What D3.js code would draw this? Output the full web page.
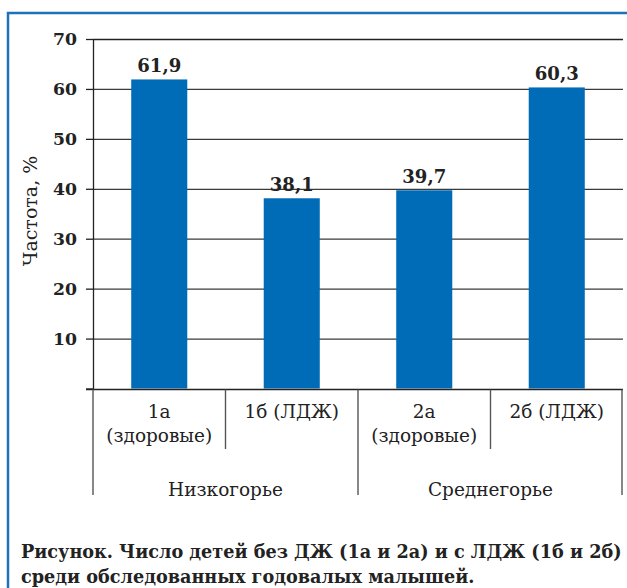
<!DOCTYPE html>
<html>
<head>
<meta charset="utf-8">
<script src="https://cdn.jsdelivr.net/npm/d3@7"></script>
<style>
    body { margin: 0; background: #fff; }
</style>
</head>
<body>
<div id="chart"></div>
<script>
// categories, values and labels
let categories = ["1а", "1б", "2а", "2б"];
let categoryLines = [["1а", "(здоровые)"], ["1б (ЛДЖ)"], ["2а", "(здоровые)"], ["2б (ЛДЖ)"]];
let values = [61.9, 38.1, 39.7, 60.3];
let valueLabels = ["61,9", "38,1", "39,7", "60,3"];
let groups = ["Низкогорье", "Среднегорье"];
let groupMembers = [["1а", "1б"], ["2а", "2б"]];
let yTicks = [0, 10, 20, 30, 40, 50, 60, 70];
let yTitle = "Частота, %";
let caption = ["Рисунок. Число детей без ДЖ (1а и 2а) и с ЛДЖ (1б и 2б)",
               "среди обследованных годовалых малышей."];

let W = 627, H = 588;
let plot = {left: 93, right: 623, top: 39, bottom: 388.5};
let serif = "'DejaVu Serif', 'Liberation Serif', serif";

let svg = d3.select("#chart")
    .append("svg")
    .attr("width", W)
    .attr("height", H)
    .style("display", "block");

// pick a font size so that a sample string gets the width seen in the picture
function fitSize(sample, weight, targetWidth, maxSize) {
    let t = svg.append("text")
        .style("font-family", serif)
        .style("font-weight", weight)
        .style("font-size", "100px")
        .text(sample);
    let w = t.node().getComputedTextLength();
    t.remove();
    return Math.min(maxSize, 100 * targetWidth / w);
}
let tickSize = fitSize("70", "bold", 24, 19);
let valSize = fitSize("61,9", "bold", 44, 20);
let catSize = fitSize("(здоровые)", "normal", 106, 19);
let titleSize = fitSize(yTitle, "normal", 114, 19);
let capSize = fitSize(caption[0], "bold", 601, 19);

// blue frame (top and left edge)
svg.append("path")
    .attr("d", "M8," + H + " V13 H" + W)
    .attr("fill", "none")
    .attr("stroke", "#1f72b8")
    .attr("stroke-width", 2.5);

let x = d3.scaleBand()
    .domain(categories)
    .range([plot.left, plot.right])
    .paddingInner(0.577)
    .paddingOuter(0.2885);

let y = d3.scaleLinear()
    .domain([0, 70])
    .range([plot.bottom, plot.top]);

// grid lines
let grid = svg.append("g")
    .attr("transform", "translate(" + plot.left + ",0)")
    .call(d3.axisLeft(y).tickValues(yTicks.slice(1)).tickSize(-(plot.right - plot.left)).tickFormat(""));
grid.select(".domain").remove();
grid.selectAll(".tick line")
    .attr("stroke", function(d) { return d === 70 ? "#222" : "#3a3a3a"; })
    .attr("stroke-width", 1.3);

// Y axis with ticks and labels
let yAxis = svg.append("g")
    .attr("transform", "translate(" + plot.left + ",0)")
    .call(d3.axisLeft(y).tickValues(yTicks).tickSize(7).tickSizeOuter(0).tickPadding(9)
        .tickFormat(function(d) { return d === 0 ? "" : d; }));
yAxis.select(".domain").attr("stroke", "#222").attr("stroke-width", 1.3);
yAxis.selectAll(".tick line").attr("stroke", "#222").attr("stroke-width", 1.3);
yAxis.selectAll(".tick text")
    .attr("fill", "#222")
    .style("font-family", serif)
    .style("font-size", tickSize + "px")
    .style("font-weight", "bold");

// Y axis title
svg.append("text")
    .attr("transform", "translate(37," + 211 + ") rotate(-90)")
    .attr("text-anchor", "middle")
    .attr("fill", "#222")
    .style("font-family", serif)
    .style("font-size", titleSize + "px")
    .text(yTitle);

// bars
svg.selectAll("rect.bar")
    .data(values)
    .enter()
    .append("rect")
    .attr("class", "bar")
    .attr("x", function(d, i) { return x(categories[i]); })
    .attr("y", function(d) { return y(d); })
    .attr("width", x.bandwidth())
    .attr("height", function(d) { return y(0) - y(d); })
    .attr("fill", "#006bb6");

// value labels
svg.selectAll("text.val")
    .data(values)
    .enter()
    .append("text")
    .attr("class", "val")
    .attr("x", function(d, i) { return x(categories[i]) + x.bandwidth() / 2; })
    .attr("y", function(d) { return y(d) - 7; })
    .attr("text-anchor", "middle")
    .attr("fill", "#222")
    .style("font-family", serif)
    .style("font-size", valSize + "px")
    .style("font-weight", "bold")
    .text(function(d, i) { return valueLabels[i]; });

// baseline
svg.append("line")
    .attr("x1", plot.left - 7).attr("x2", plot.right)
    .attr("y1", y(0) + 1).attr("y2", y(0) + 1)
    .attr("stroke", "#222")
    .attr("stroke-width", 1.6);

// category dividers below the axis
let step = x.step();
function cellLeft(c) { return x(c) - (step - x.bandwidth()) / 2; }

let bounds = [];
categories.forEach(function(c) {
    let isGroupStart = groupMembers.some(function(g) { return g[0] === c; });
    bounds.push({ x: cellLeft(c), end: isGroupStart ? 495 : 449 });
});
bounds.push({ x: plot.right - 1, end: 495 });

svg.selectAll("line.div")
    .data(bounds)
    .enter()
    .append("line")
    .attr("class", "div")
    .attr("x1", function(d) { return d.x; })
    .attr("x2", function(d) { return d.x; })
    .attr("y1", y(0) + 1)
    .attr("y2", function(d) { return d.end; })
    .attr("stroke", "#555")
    .attr("stroke-width", 1.4);

// category labels
categoryLines.forEach(function(lines, i) {
    let cx = x(categories[i]) + x.bandwidth() / 2;
    lines.forEach(function(t, j) {
        svg.append("text")
            .attr("x", cx)
            .attr("y", 418 + j * 24)
            .attr("text-anchor", "middle")
            .attr("fill", "#222")
            .style("font-family", serif)
            .style("font-size", catSize + "px")
            .text(t);
    });
});

// group labels
groups.forEach(function(g, i) {
    let members = groupMembers[i];
    let x0 = cellLeft(members[0]);
    let x1 = cellLeft(members[members.length - 1]) + step;
    svg.append("text")
        .attr("x", (x0 + x1) / 2)
        .attr("y", 496)
        .attr("text-anchor", "middle")
        .attr("fill", "#222")
        .style("font-family", serif)
        .style("font-size", catSize + "px")
        .text(g);
});

// caption
caption.forEach(function(t, i) {
    svg.append("text")
        .attr("x", 21)
        .attr("y", 558 + i * 25)
        .attr("fill", "#222")
        .style("font-family", serif)
        .style("font-size", capSize + "px")
        .style("font-weight", "bold")
        .text(t);
});
</script>
</body>
</html>
